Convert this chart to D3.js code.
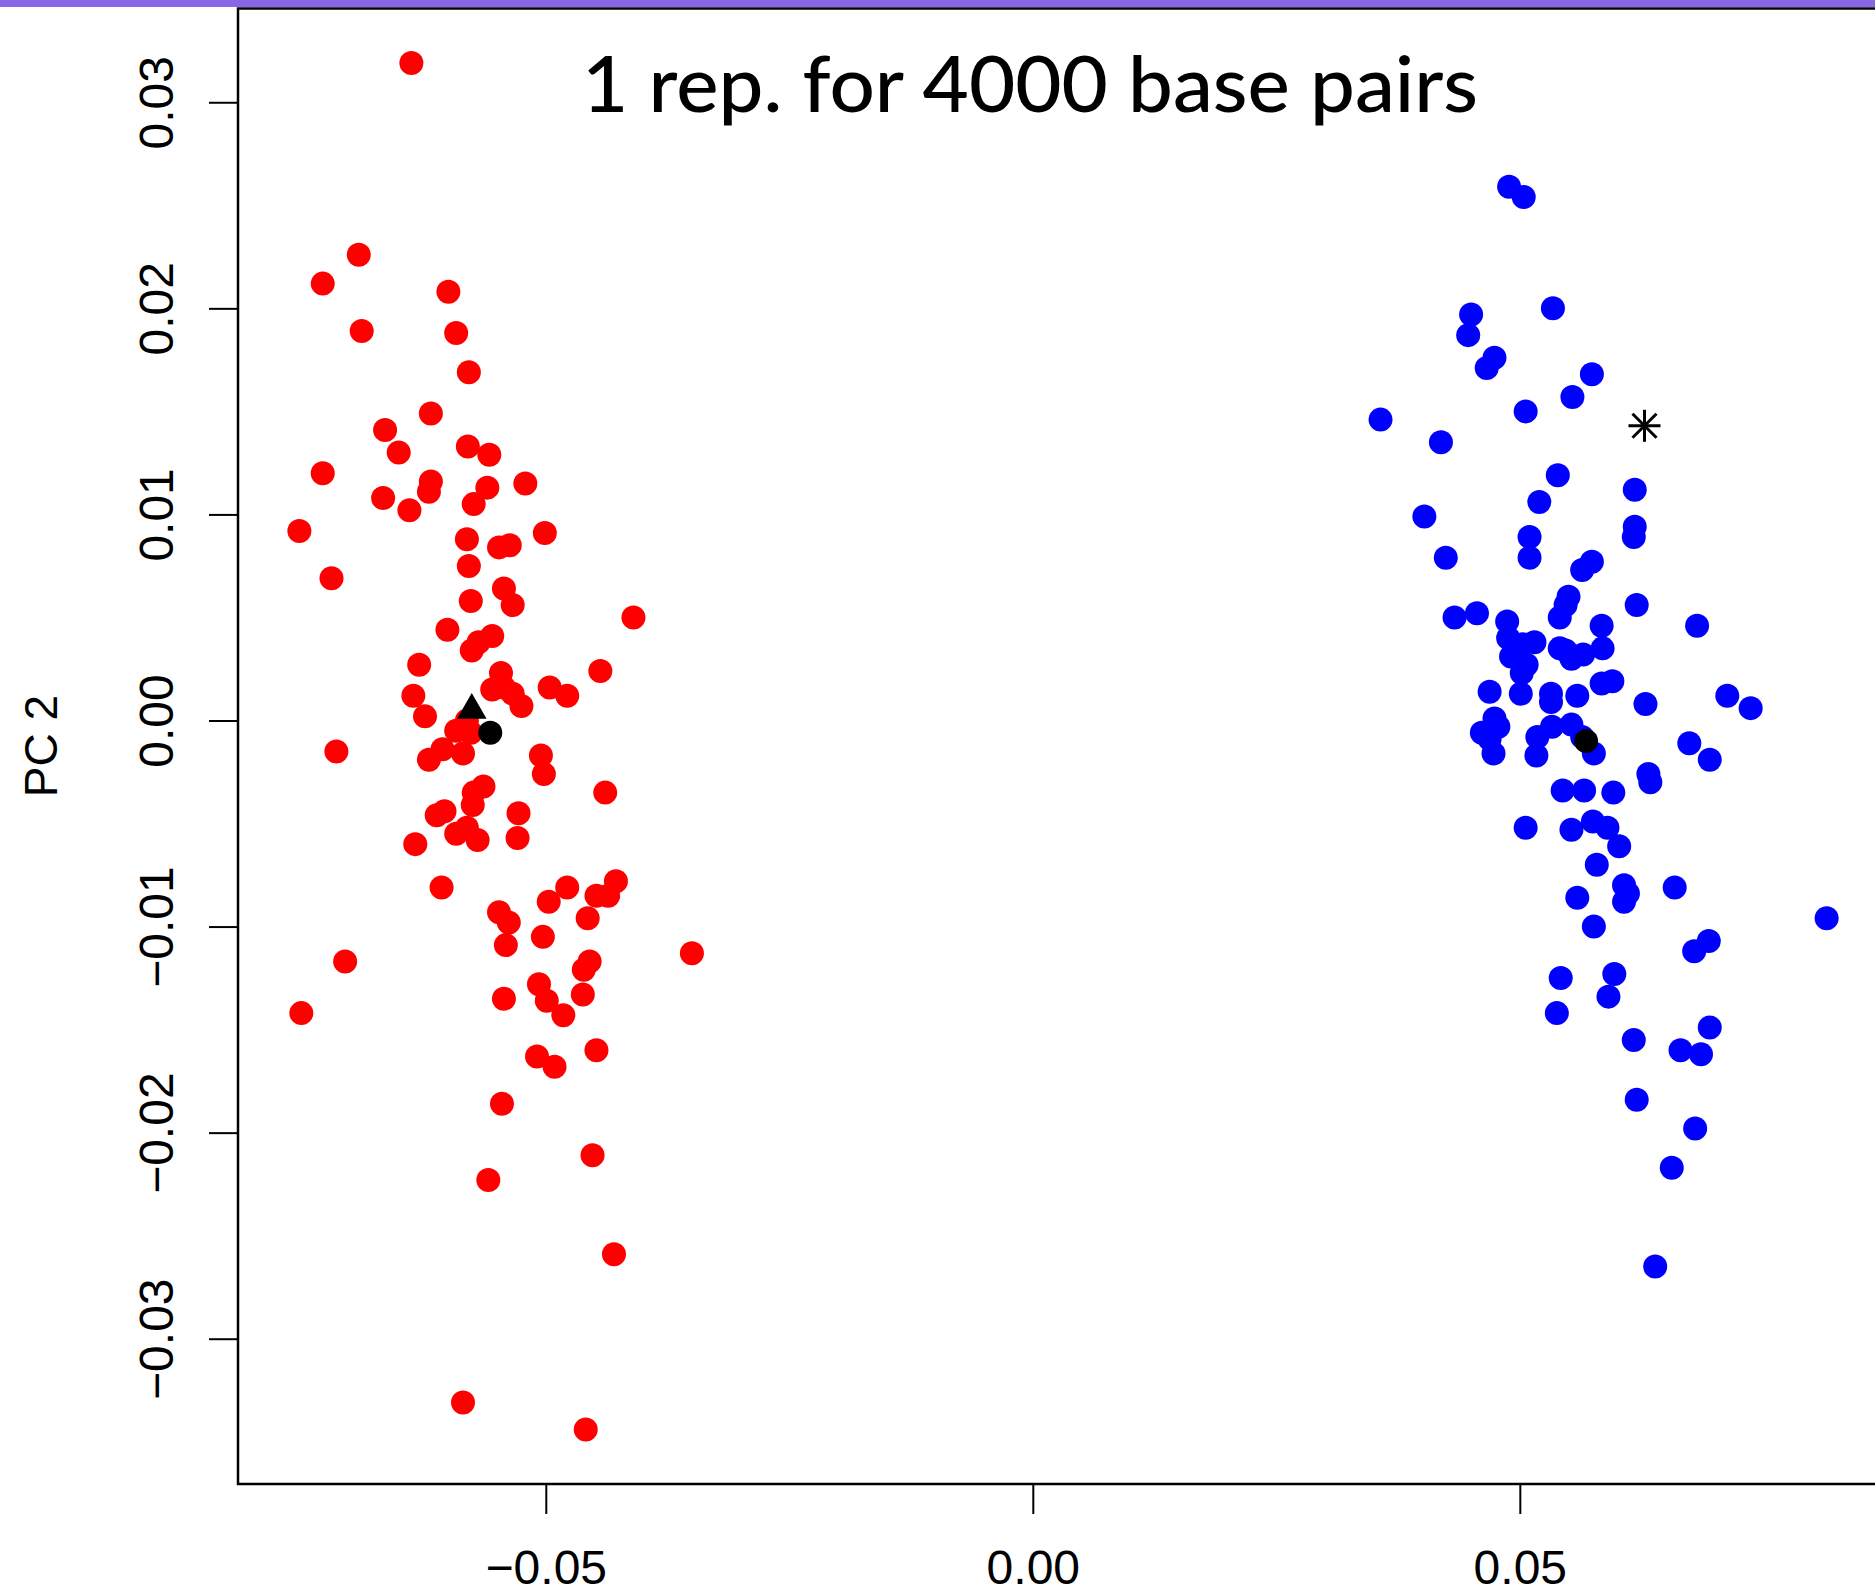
<!DOCTYPE html>
<html>
<head>
<meta charset="utf-8">
<script src="https://cdn.jsdelivr.net/npm/d3@7/dist/d3.min.js"></script>
<style>
  body { margin: 0; background: #fff; }
  svg { display: block; }
</style>
</head>
<body>
<script>
const width = 1875;
const height = 1594;

const title = "1 rep. for 4000 base pairs";
const yLabel = "PC 2";
const xTicks = [-0.05, 0.00, 0.05];
const yTicks = [-0.03, -0.02, -0.01, 0.00, 0.01, 0.02, 0.03];

// group 1 (red)
const redPC1 = [-0.0638, -0.0692, -0.0729, -0.0689, -0.0600, -0.0592, -0.0579, -0.0618, -0.0665, -0.0651,
  -0.0729, -0.0580, -0.0558, -0.0618, -0.0620, -0.0667, -0.0640, -0.0560, -0.0574, -0.0521,
  -0.0753, -0.0501, -0.0581, -0.0548, -0.0537, -0.0720, -0.0579, -0.0543, -0.0534, -0.0577,
  -0.0410, -0.0601, -0.0555, -0.0569, -0.0576, -0.0630, -0.0444, -0.0546, -0.0555, -0.0543,
  -0.0534, -0.0525, -0.0496, -0.0478, -0.0636, -0.0624, -0.0581, -0.0592, -0.0577, -0.0606,
  -0.0585, -0.0620, -0.0715, -0.0505, -0.0502, -0.0564, -0.0574, -0.0439, -0.0575, -0.0528,
  -0.0604, -0.0612, -0.0592, -0.0581, -0.0570, -0.0529, -0.0634, -0.0607, -0.0478, -0.0428,
  -0.0448, -0.0436, -0.0497, -0.0548, -0.0538, -0.0457, -0.0503, -0.0541, -0.0350, -0.0706,
  -0.0455, -0.0461, -0.0507, -0.0543, -0.0499, -0.0462, -0.0482, -0.0751, -0.0448, -0.0509,
  -0.0491, -0.0545, -0.0452, -0.0559, -0.0430, -0.0585, -0.0459];
const redPC2 = [0.0319, 0.0226, 0.0212, 0.0189, 0.0208, 0.0188, 0.0169, 0.0149, 0.0141, 0.0130,
  0.0120, 0.0133, 0.0129, 0.0116, 0.0111, 0.0108, 0.0102, 0.0113, 0.0105, 0.0115,
  0.0092, 0.0091, 0.0088, 0.0084, 0.0085, 0.0069, 0.0075, 0.0064, 0.0056, 0.0058,
  0.0050, 0.0044, 0.0041, 0.0038, 0.0034, 0.0027, 0.0024, 0.0023, 0.0015, 0.0016,
  0.0013, 0.0007, 0.0016, 0.0012, 0.0012, 0.0002, 0.0000, -0.0005, -0.0006, -0.0014,
  -0.0016, -0.0019, -0.0015, -0.0017, -0.0026, -0.0032, -0.0035, -0.0035, -0.0041, -0.0045,
  -0.0044, -0.0046, -0.0055, -0.0052, -0.0058, -0.0057, -0.0060, -0.0081, -0.0081, -0.0078,
  -0.0085, -0.0085, -0.0088, -0.0093, -0.0098, -0.0096, -0.0105, -0.0109, -0.0113, -0.0117,
  -0.0117, -0.0121, -0.0128, -0.0135, -0.0136, -0.0133, -0.0143, -0.0142, -0.0160, -0.0163,
  -0.0168, -0.0186, -0.0211, -0.0223, -0.0259, -0.0331, -0.0344];

// group 2 (blue)
const bluePC1 = [0.0489, 0.0504, 0.0534, 0.0450, 0.0447, 0.0474, 0.0466, 0.0574, 0.0554, 0.0506,
  0.0357, 0.0419, 0.0539, 0.0618, 0.0520, 0.0402, 0.0618, 0.0510, 0.0617, 0.0510,
  0.0574, 0.0564, 0.0424, 0.0550, 0.0547, 0.0620, 0.0433, 0.0456, 0.0541, 0.0682,
  0.0487, 0.0584, 0.0488, 0.0515, 0.0503, 0.0541, 0.0494, 0.0547, 0.0585, 0.0565,
  0.0491, 0.0507, 0.0553, 0.0502, 0.0584, 0.0595, 0.0469, 0.0501, 0.0532, 0.0559,
  0.0713, 0.0532, 0.0629, 0.0737, 0.0474, 0.0461, 0.0478, 0.0469, 0.0473, 0.0518,
  0.0533, 0.0553, 0.0576, 0.0517, 0.0674, 0.0695, 0.0564, 0.0632, 0.0634, 0.0544,
  0.0566, 0.0596, 0.0506, 0.0553, 0.0575, 0.0590, 0.0602, 0.0579, 0.0559, 0.0607,
  0.0611, 0.0607, 0.0659, 0.0576, 0.0815, 0.0679, 0.0694, 0.0542, 0.0597, 0.0591,
  0.0538, 0.0617, 0.0695, 0.0665, 0.0686, 0.0620, 0.0680, 0.0656, 0.0639];
const bluePC2 = [0.0259, 0.0254, 0.0200, 0.0197, 0.0187, 0.0176, 0.0171, 0.0168, 0.0157, 0.0150,
  0.0146, 0.0135, 0.0119, 0.0112, 0.0106, 0.0099, 0.0094, 0.0089, 0.0089, 0.0079,
  0.0077, 0.0073, 0.0079, 0.0060, 0.0056, 0.0056, 0.0050, 0.0052, 0.0050, 0.0046,
  0.0048, 0.0046, 0.0040, 0.0038, 0.0037, 0.0035, 0.0033, 0.0034, 0.0035, 0.0032,
  0.0031, 0.0027, 0.0030, 0.0023, 0.0018, 0.0019, 0.0014, 0.0013, 0.0013, 0.0012,
  0.0012, 0.0009, 0.0008, 0.0006, 0.0001, -0.0006, -0.0003, -0.0009, -0.0016, -0.0008,
  -0.0003, -0.0002, -0.0016, -0.0017, -0.0011, -0.0019, -0.0008, -0.0026, -0.0030, -0.0034,
  -0.0034, -0.0035, -0.0052, -0.0053, -0.0049, -0.0052, -0.0061, -0.0070, -0.0086, -0.0080,
  -0.0084, -0.0088, -0.0081, -0.0100, -0.0096, -0.0112, -0.0107, -0.0125, -0.0123, -0.0134,
  -0.0142, -0.0155, -0.0149, -0.0160, -0.0162, -0.0184, -0.0198, -0.0217, -0.0265];

// group centres and the extra samples
const centrePC1 = [-0.0557, 0.0568];
const centrePC2 = [-0.0006, -0.0010];
const trianglePC = [-0.0576, 0.0005];
const starPC = [0.0628, 0.0143];

const xDomain = [-0.0816, 0.0878];
const yDomain = [-0.03705, 0.03455];

const svg = d3.select("body").append("svg")
  .attr("width", width)
  .attr("height", height);

svg.append("rect")
  .attr("x", 0).attr("y", 0)
  .attr("width", width).attr("height", 7)
  .attr("fill", "#8767e6");

const x = d3.scaleLinear().domain(xDomain).range([238, 1888]);
const y = d3.scaleLinear().domain(yDomain).range([1484, 8.5]);

const fmt = d3.format(".2f");

// x axis
const xAxis = svg.append("g")
  .attr("transform", `translate(0,${y.range()[0]})`)
  .call(d3.axisBottom(x).tickValues(xTicks).tickSize(30).tickFormat(fmt));
xAxis.select(".domain").remove();
xAxis.selectAll("line").attr("stroke", "#000").attr("stroke-width", 2);
xAxis.selectAll("text")
  .attr("y", 100).attr("dy", 0)
  .attr("fill", "#000")
  .style("font-family", "'Liberation Sans', Arial, sans-serif")
  .style("font-size", "48px");

// y axis
const yAxis = svg.append("g")
  .attr("transform", `translate(${x.range()[0]},0)`)
  .call(d3.axisLeft(y).tickValues(yTicks).tickSize(29).tickFormat(fmt));
yAxis.select(".domain").remove();
yAxis.selectAll("line").attr("stroke", "#000").attr("stroke-width", 2);
yAxis.selectAll("text")
  .attr("x", 0).attr("y", -65).attr("dy", 0)
  .attr("transform", "rotate(-90)")
  .attr("text-anchor", "middle")
  .attr("fill", "#000")
  .style("font-family", "'Liberation Sans', Arial, sans-serif")
  .style("font-size", "48px");

svg.append("text")
  .attr("transform", "translate(57,746) rotate(-90)")
  .attr("text-anchor", "middle")
  .style("font-family", "'Liberation Sans', Arial, sans-serif")
  .style("font-size", "46px")
  .text(yLabel);

// points
const plot = svg.append("g");

plot.selectAll("circle.red")
  .data(d3.zip(redPC1, redPC2))
  .join("circle")
  .attr("class", "red")
  .attr("cx", d => x(d[0]))
  .attr("cy", d => y(d[1]))
  .attr("r", 12)
  .attr("fill", "#ff0000");

plot.selectAll("circle.blue")
  .data(d3.zip(bluePC1, bluePC2))
  .join("circle")
  .attr("class", "blue")
  .attr("cx", d => x(d[0]))
  .attr("cy", d => y(d[1]))
  .attr("r", 12)
  .attr("fill", "#0000ff");

plot.selectAll("circle.centre")
  .data(d3.zip(centrePC1, centrePC2))
  .join("circle")
  .attr("class", "centre")
  .attr("cx", d => x(d[0]))
  .attr("cy", d => y(d[1]))
  .attr("r", 12)
  .attr("fill", "#000");

plot.append("path")
  .attr("d", d3.symbol(d3.symbolTriangle, 380)())
  .attr("transform", `translate(${x(trianglePC[0])},${y(trianglePC[1])})`)
  .attr("fill", "#000");

const star = plot.append("g")
  .attr("transform", `translate(${x(starPC[0])},${y(starPC[1])})`)
  .attr("stroke", "#000")
  .attr("stroke-width", 3);
[[-16, 0, 16, 0], [0, -16, 0, 16], [-12, -12, 12, 12], [-12, 12, 12, -12]].forEach(s => {
  star.append("line").attr("x1", s[0]).attr("y1", s[1]).attr("x2", s[2]).attr("y2", s[3]);
});

// box
svg.append("rect")
  .attr("x", x.range()[0]).attr("y", y.range()[1])
  .attr("width", x.range()[1] - x.range()[0])
  .attr("height", y.range()[0] - y.range()[1])
  .attr("fill", "none")
  .attr("stroke", "#000")
  .attr("stroke-width", 2.5);

svg.append("text")
  .attr("x", 582).attr("y", 112)
  .attr("textLength", 896)
  .attr("lengthAdjust", "spacingAndGlyphs")
  .style("font-family", "Lato, 'Noto Sans', sans-serif")
  .style("font-size", "78px")
  .style("font-weight", 500)
  .text(title);
</script>
</body>
</html>
